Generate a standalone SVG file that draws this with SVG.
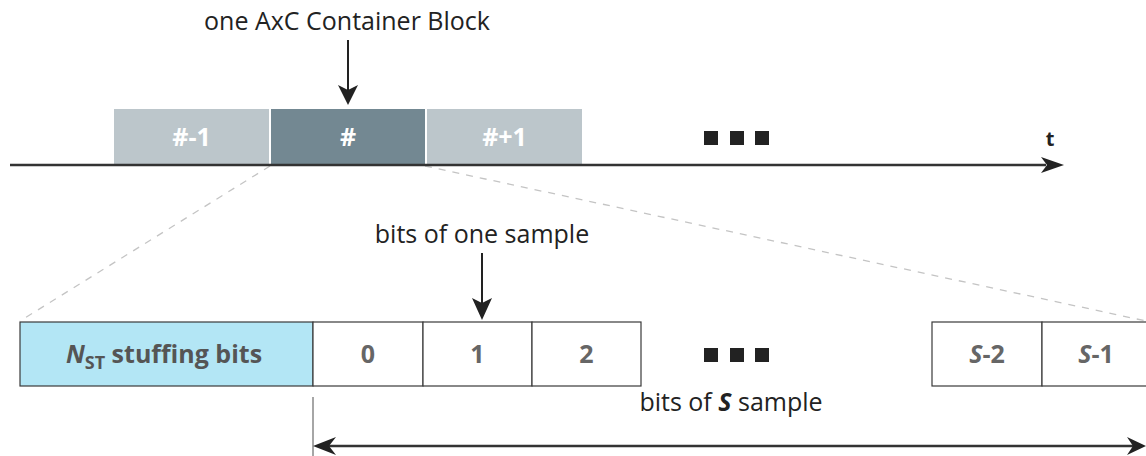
<svg xmlns="http://www.w3.org/2000/svg" width="1146" height="456" viewBox="0 0 1146 456">
<style>
.lbl{font-family:"Open Sans","Noto Sans",sans-serif;font-size:25px;fill:#222;text-anchor:middle}
.blk{font-family:"Open Sans","Noto Sans",sans-serif;font-size:25px;font-weight:bold;fill:#fff;text-anchor:middle}
.cell{fill:#fff;stroke:#3a3a3a;stroke-width:1.2}
.ct{font-family:"Open Sans","Noto Sans",sans-serif;font-size:25px;font-weight:bold;fill:#666;text-anchor:middle}
.dash{stroke:#c4c4c4;stroke-width:1.3;stroke-dasharray:7 7;fill:none}
.ah{fill:#222}
.sq{fill:#222}
</style>
<g id="dashes">
<line class="dash" x1="270" y1="166" x2="20" y2="321"/>
<line class="dash" x1="425" y1="166" x2="1146" y2="321"/>
</g>
<g id="block-prev"><rect x="114" y="109" width="155" height="55" fill="#bcc6cb"/><text class="blk" x="191.5" y="146">#-1</text></g>
<g id="block-cur"><rect x="271" y="109" width="154" height="55" fill="#738892"/><text class="blk" x="348" y="146">#</text></g>
<g id="block-next"><rect x="427" y="109" width="155" height="55" fill="#bcc6cb"/><text class="blk" x="504.5" y="146">#+1</text></g>
<g id="dots-top"><rect class="sq" x="704" y="131" width="14" height="14"/><rect class="sq" x="730" y="131" width="14" height="14"/><rect class="sq" x="755" y="131" width="14" height="14"/></g>
<text x="1050" y="146" font-family="Open Sans, Noto Sans, sans-serif" font-size="20" font-weight="bold" fill="#222" text-anchor="middle">t</text>
<text class="lbl" x="347" y="30">one AxC Container Block</text>
<text class="lbl" x="482" y="243">bits of one sample</text>
<g id="stuffing"><rect x="20" y="322" width="293" height="64" fill="#b3e6f5" stroke="#3a3a3a" stroke-width="1.2"/>
<text class="ct" x="164" y="363" style="fill:#555"><tspan font-style="italic">N</tspan><tspan font-size="18" dy="6">ST</tspan><tspan dy="-6"> stuffing bits</tspan></text></g>
<g id="cell0"><rect class="cell" x="313" y="322" width="110" height="64"/><text class="ct" x="368" y="363">0</text></g>
<g id="cell1"><rect class="cell" x="423" y="322" width="109" height="64"/><text class="ct" x="477.5" y="363">1</text></g>
<g id="cell2"><rect class="cell" x="532" y="322" width="109" height="64"/><text class="ct" x="586.5" y="363">2</text></g>
<g id="dots-bottom"><rect class="sq" x="704" y="348" width="14" height="14"/><rect class="sq" x="730" y="348" width="14" height="14"/><rect class="sq" x="755" y="348" width="14" height="14"/></g>
<g id="cellS2"><rect class="cell" x="932" y="322" width="110" height="64"/><text class="ct" x="987" y="363"><tspan font-style="italic">S</tspan>-2</text></g>
<g id="cellS1"><rect class="cell" x="1042" y="322" width="110" height="64"/><text class="ct" x="1096" y="363"><tspan font-style="italic">S</tspan>-1</text></g>
<text class="lbl" x="731" y="411">bits of <tspan font-weight="bold" font-style="italic">S</tspan> sample</text>
<g id="connectors">
<line x1="10" y1="165" x2="1046" y2="165" stroke="#333" stroke-width="2.5"/>
<path class="ah" d="M1064,165 L1041,157 L1047,165 L1041,173 Z"/>
<line x1="348" y1="40" x2="348" y2="90" stroke="#222" stroke-width="2"/>
<path class="ah" d="M348,105 L338,85 L348,90 L358,85 Z"/>
<line x1="482" y1="253" x2="482" y2="303" stroke="#222" stroke-width="2"/>
<path class="ah" d="M482,320 L472,298 L482,303 L492,298 Z"/>
<line x1="313" y1="397" x2="313" y2="456" stroke="#888" stroke-width="1.5"/>
<line x1="322" y1="446" x2="1138" y2="446" stroke="#333" stroke-width="2.5"/>
<path class="ah" d="M313,446 L336,437 L329,446 L336,455 Z"/>
<path class="ah" d="M1146,446 L1127,437 L1133,446 L1127,455 Z"/>
</g>
</svg>
